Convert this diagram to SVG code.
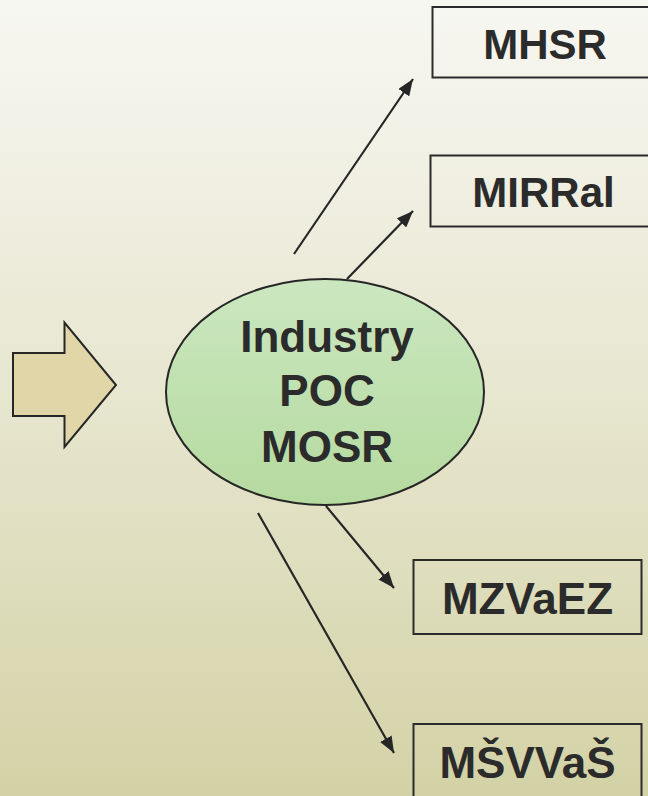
<svg xmlns="http://www.w3.org/2000/svg" width="648" height="796" viewBox="0 0 648 796">
<defs>
<linearGradient id="bg" x1="0" y1="0" x2="0" y2="1">
<stop offset="0" stop-color="#f7f7f2"/>
<stop offset="0.5" stop-color="#e7e6cf"/>
<stop offset="1" stop-color="#d3d2a6"/>
</linearGradient>
<linearGradient id="ell" x1="0" y1="0" x2="0" y2="1">
<stop offset="0" stop-color="#cbe7c0"/>
<stop offset="1" stop-color="#b5da9f"/>
</linearGradient>
<marker id="ah" viewBox="0 0 10 8" refX="10" refY="4" markerWidth="7.5" markerHeight="6" markerUnits="strokeWidth" orient="auto">
<path d="M0,0 L10,4 L0,8 z" fill="#262626"/>
</marker>
<style>
.box{fill:none;stroke:#2b2b2b;stroke-width:2}
.lbl{font-family:"Liberation Sans",Arial,sans-serif;font-weight:bold;fill:#2b2b2b;text-anchor:middle}
.con{stroke:#262626;stroke-width:2.2;fill:none;marker-end:url(#ah)}
</style>
</defs>
<rect x="0" y="0" width="648" height="796" fill="url(#bg)"/>
<g id="bigarrow">
<path d="M13,353 L64.5,353 L64.5,322.5 L116,385 L64.5,447 L64.5,416 L13,416 Z" fill="#e0d6a8" stroke="#262626" stroke-width="2"/>
</g>
<g id="connectors">
<line class="con" x1="294" y1="254" x2="413" y2="79"/>
<line class="con" x1="347" y1="279" x2="413" y2="211"/>
<line class="con" x1="326" y1="506" x2="394" y2="588"/>
<line class="con" x1="258" y1="513" x2="394" y2="753"/>
</g>
<g id="center">
<ellipse cx="325" cy="392" rx="159" ry="113" fill="url(#ell)" stroke="#262626" stroke-width="2"/>
<text class="lbl" x="327" y="352" font-size="44">Industry</text>
<text class="lbl" x="327" y="406" font-size="44">POC</text>
<text class="lbl" x="327" y="462" font-size="44">MOSR</text>
</g>
<g id="mhsr">
<rect class="box" x="432.5" y="7" width="230" height="70.5"/>
<text class="lbl" x="545" y="59" font-size="42">MHSR</text>
</g>
<g id="mirral">
<rect class="box" x="430.5" y="155.5" width="230" height="71"/>
<text class="lbl" x="543.5" y="207" font-size="42">MIRRal</text>
</g>
<g id="mzvaez">
<rect class="box" x="413.5" y="560" width="228" height="74"/>
<text class="lbl" x="527.5" y="614" font-size="44">MZVaEZ</text>
</g>
<g id="msvvas">
<rect class="box" x="413.5" y="724" width="228" height="90"/>
<text class="lbl" x="527.5" y="778" font-size="44">MŠVVaŠ</text>
</g>
</svg>
